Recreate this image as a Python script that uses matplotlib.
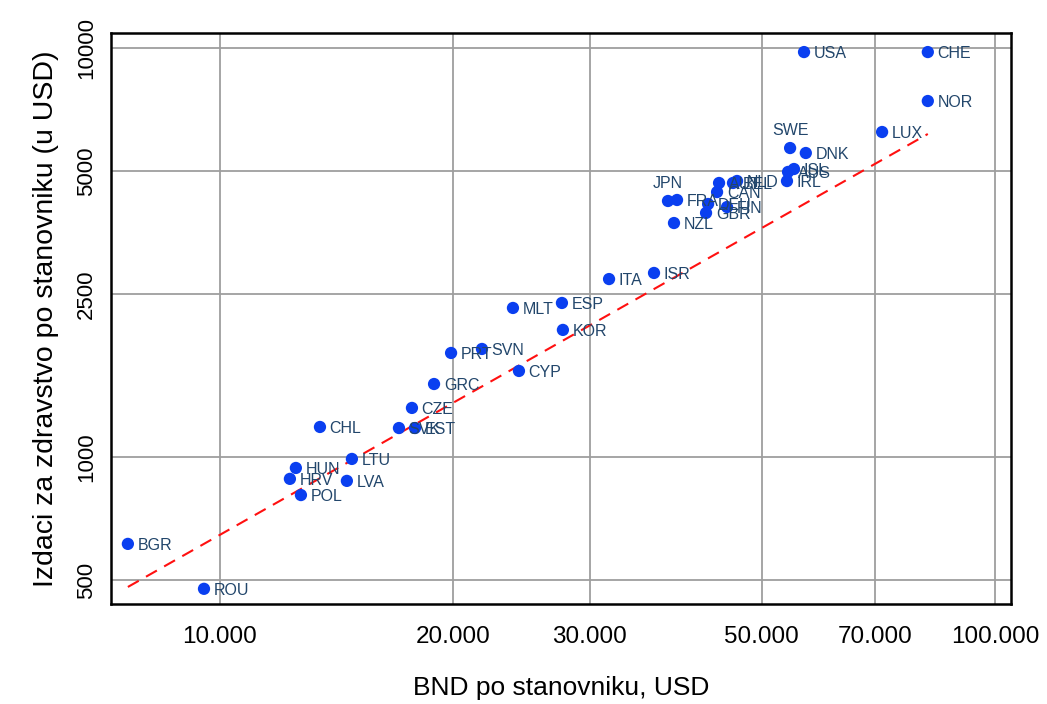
import numpy as np
import matplotlib
matplotlib.use("Agg")
import matplotlib.pyplot as plt

countries = ["USA", "CHE", "NOR", "LUX", "SWE", "DNK", "ISL", "AUS", "IRL",
             "JPN", "FRA", "NZL", "AUT", "BEL", "NLD", "CAN", "DEU", "FIN", "GBR",
             "ITA", "ISR", "ESP", "MLT", "KOR", "PRT", "SVN", "CYP", "GRC",
             "CZE", "SVK", "EST", "CHL", "LTU", "HUN", "HRV", "LVA", "POL",
             "BGR", "ROU"]
gni = [56700, 81900, 81900, 71500, 54400, 57000, 55030, 54070, 53900,
       37850, 38880, 38530, 44050, 45910, 46470, 43790, 42640, 45110, 42380,
       31770, 36310, 27620, 23880, 27700, 19870, 21780, 24310, 18890,
       17690, 17020, 17850, 13460, 14800, 12530, 12310, 14580, 12720,
       7607, 9537]
health = [9775, 9775, 7420, 6232, 5694, 5537, 5060, 4977, 4728,
          4226, 4250, 3733, 4677, 4677, 4730, 4444, 4155, 4085, 3951,
          2723, 2818, 2380, 2314, 2045, 1796, 1837, 1623, 1508,
          1318, 1177, 1177, 1184, 989, 940, 884, 874, 807,
          613, 476]
labels_above = ["SWE", "JPN"]

# fitted trend line (log-log)
fit_gni = [7607, 81900]
fit_health = [481, 6163]

x_ticks = [10000, 20000, 30000, 50000, 70000, 100000]
x_ticklabels = ["10.000", "20.000", "30.000", "50.000", "70.000", "100.000"]
y_ticks = [500, 1000, 2500, 5000, 10000]
y_ticklabels = ["500", "1000", "2500", "5000", "10000"]

plt.rcParams['font.family'] = ['Liberation Sans', 'DejaVu Sans']

fig = plt.figure(figsize=(10.47, 7.04), dpi=100)
ax = fig.add_axes([111/1047, 1-604/704, 900/1047, 571/704])
ax.set_xscale('log')
ax.set_yscale('log')
ax.set_xlim(7235, 104860)
ax.set_ylim(437, 10882)

for t in x_ticks:
    ax.axvline(t, color='#9E9E9E', lw=1.3, zorder=1)
for t in y_ticks:
    ax.axhline(t, color='#9E9E9E', lw=1.3, zorder=1)

ax.plot(fit_gni, fit_health, color='#FF1010', lw=1.5, dashes=(6, 4), zorder=2)

ax.scatter(gni, health, s=78, color='#0A3FF0', edgecolors='none', zorder=3)

for c, xv, yv in zip(countries, gni, health):
    if c in labels_above:
        ax.annotate(c, (xv, yv), xytext=(0, 7), textcoords='offset points',
                    ha='center', va='bottom', fontsize=11.5, color='#22466B', zorder=4)
    else:
        ax.annotate(c, (xv, yv), xytext=(7, -1), textcoords='offset points',
                    ha='left', va='center', fontsize=11.5, color='#22466B', zorder=4)

ax.xaxis.set_major_locator(matplotlib.ticker.FixedLocator(x_ticks))
ax.xaxis.set_minor_locator(matplotlib.ticker.NullLocator())
ax.yaxis.set_major_locator(matplotlib.ticker.FixedLocator(y_ticks))
ax.yaxis.set_minor_locator(matplotlib.ticker.NullLocator())
ax.set_xticklabels(x_ticklabels, fontsize=17.5)
ax.set_yticklabels(y_ticklabels, fontsize=16, rotation=90, va='center')
ax.tick_params(axis='x', length=0, pad=16)
ax.tick_params(axis='y', length=0, pad=10)

for s in ax.spines.values():
    s.set_linewidth(1.8)
    s.set_color('black')
    s.set_zorder(5)

ax.set_xlabel("BND po stanovniku, USD", fontsize=19, labelpad=20)
ax.set_ylabel("Izdaci za zdravstvo po stanovniku (u USD)", fontsize=20.5, labelpad=12)

fig.savefig("out.png", dpi=100)
